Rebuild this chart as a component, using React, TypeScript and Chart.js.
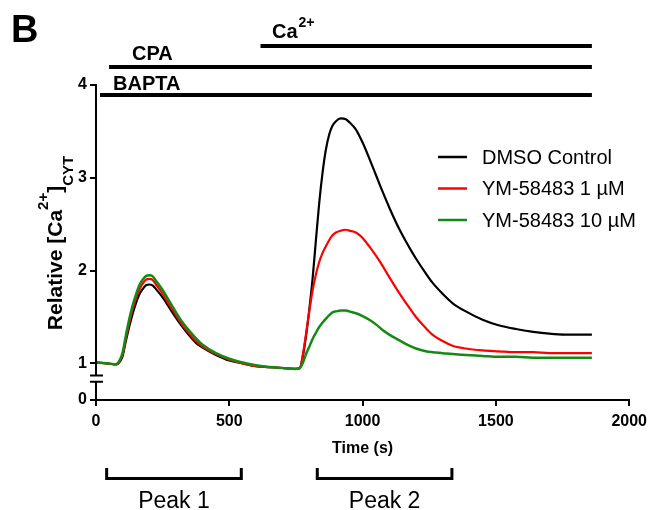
import { useEffect, useRef } from 'react';
import { Chart, registerables } from 'chart.js';
Chart.register(...registerables);

const FONT = '"Liberation Sans", Arial, Helvetica, sans-serif';

// ---- data ----
const times = [0, 40, 75, 90, 100, 112, 125, 137, 150, 162, 175, 187, 200, 212, 225, 250, 275, 300, 325, 350, 375, 400, 450, 500, 550, 600, 650, 700, 750, 765, 775, 788, 800, 812, 825, 837, 850, 862, 875, 887, 900, 918, 937, 950, 975, 1000, 1025, 1050, 1075, 1100, 1137, 1175, 1200, 1237, 1262, 1300, 1337, 1387, 1450, 1510, 1575, 1640, 1700, 1760, 1810, 1860];
const dmsoControl = [1.01, 1.0, 0.99, 1.02, 1.08, 1.24, 1.4, 1.53, 1.65, 1.74, 1.8, 1.84, 1.85, 1.84, 1.8, 1.71, 1.6, 1.49, 1.39, 1.3, 1.22, 1.17, 1.09, 1.03, 1.0, 0.97, 0.96, 0.95, 0.94, 0.95, 1.06, 1.3, 1.58, 1.9, 2.33, 2.72, 3.06, 3.3, 3.47, 3.56, 3.61, 3.64, 3.63, 3.6, 3.52, 3.38, 3.21, 3.03, 2.85, 2.68, 2.45, 2.25, 2.13, 1.97, 1.87, 1.75, 1.65, 1.56, 1.47, 1.41, 1.37, 1.34, 1.32, 1.31, 1.31, 1.31];
const ym1uM = [1.01, 1.0, 0.99, 1.03, 1.1, 1.27, 1.44, 1.58, 1.7, 1.79, 1.86, 1.9, 1.91, 1.9, 1.85, 1.75, 1.63, 1.52, 1.41, 1.32, 1.24, 1.18, 1.1, 1.04, 1.0, 0.97, 0.96, 0.95, 0.94, 0.95, 1.08, 1.32, 1.56, 1.78, 1.96, 2.09, 2.19, 2.26, 2.33, 2.38, 2.41, 2.43, 2.44, 2.43, 2.41, 2.35, 2.26, 2.16, 2.05, 1.93, 1.76, 1.6, 1.5, 1.38, 1.31, 1.24, 1.19, 1.16, 1.14, 1.13, 1.12, 1.12, 1.11, 1.11, 1.11, 1.11];
const ym10uM = [1.01, 1.0, 0.99, 1.04, 1.12, 1.3, 1.48, 1.62, 1.74, 1.84, 1.9, 1.94, 1.95, 1.94, 1.89, 1.79, 1.67, 1.55, 1.44, 1.35, 1.27, 1.2, 1.11, 1.05, 1.01, 0.98, 0.96, 0.95, 0.94, 0.95, 1.0, 1.1, 1.18, 1.26, 1.33, 1.39, 1.44, 1.48, 1.52, 1.55, 1.56, 1.57, 1.57, 1.56, 1.54, 1.51, 1.47, 1.42, 1.36, 1.31, 1.25, 1.19, 1.16, 1.13, 1.12, 1.11, 1.1, 1.09, 1.08, 1.07, 1.07, 1.06, 1.06, 1.06, 1.06, 1.06];

const seriesNames = ['DMSO Control', 'YM-58483 1 µM', 'YM-58483 10 µM'];
const seriesColors = ['#000000', '#ff0000', '#138a13'];
const seriesValues = [dmsoControl, ym1uM, ym10uM];

const xTicks = [0, 500, 1000, 1500, 2000];
const yTicks = [0, 1, 2, 3, 4];
const Y_ZERO_POS = 0.605; // where "0" sits on the broken axis

// treatment bars above the plot
const treatmentLabels = ['BAPTA', 'CPA', 'Ca'];
const treatmentStart = [15, 49, 617];
const treatmentEnd = [1860, 1860, 1860];

// peak brackets below the axis
const peakLabels = ['Peak 1', 'Peak 2'];
const peakStart = [40, 830];
const peakEnd = [545, 1335];

const mapY = (v: number) => (v === 0 ? Y_ZERO_POS : v);

const annotations = {
  id: 'annotations',
  afterDraw(chart: any) {
    const ctx = chart.ctx as CanvasRenderingContext2D;
    const xs = chart.scales.x;
    const ys = chart.scales.y;
    const left = chart.chartArea.left;
    ctx.save();
    ctx.fillStyle = '#000';
    ctx.strokeStyle = '#000';

    // broken y axis
    const y4 = ys.getPixelForValue(4);
    const y1 = ys.getPixelForValue(1);
    const y0 = ys.getPixelForValue(Y_ZERO_POS);
    const bTop = y1 + (y0 - y1) * 0.33;
    const bBot = y1 + (y0 - y1) * 0.5;
    ctx.lineWidth = 2;
    ctx.beginPath();
    ctx.moveTo(left, y4 - 1);
    ctx.lineTo(left, bTop);
    ctx.moveTo(left, bBot);
    ctx.lineTo(left, y0 + 1);
    ctx.moveTo(left - 6, bTop);
    ctx.lineTo(left + 7, bTop);
    ctx.moveTo(left - 6, bBot);
    ctx.lineTo(left + 7, bBot);
    ctx.stroke();

    // panel letter
    ctx.font = `bold 38px ${FONT}`;
    ctx.textAlign = 'left';
    ctx.textBaseline = 'alphabetic';
    ctx.fillText('B', 11, 42);

    // treatment bars
    const barY = [95, 67, 46];
    const labelX = [113, 132, 272];
    const labelY = [90, 60, 38];
    ctx.lineWidth = 4;
    treatmentLabels.forEach((lab, i) => {
      ctx.beginPath();
      ctx.moveTo(xs.getPixelForValue(treatmentStart[i]), barY[i]);
      ctx.lineTo(xs.getPixelForValue(treatmentEnd[i]), barY[i]);
      ctx.stroke();
      ctx.font = `bold 20px ${FONT}`;
      ctx.fillText(lab, labelX[i], labelY[i]);
      if (lab === 'Ca') {
        const w = ctx.measureText(lab).width;
        ctx.font = `bold 14px ${FONT}`;
        ctx.fillText('2+', labelX[i] + w + 1, labelY[i] - 11);
      }
    });

    // x axis title
    ctx.font = `bold 16px ${FONT}`;
    ctx.textAlign = 'center';
    ctx.fillText('Time (s)', (chart.chartArea.left + chart.chartArea.right) / 2, 453);

    // y axis title (rotated, rich text)
    ctx.save();
    ctx.translate(62, 243);
    ctx.rotate(-Math.PI / 2);
    ctx.textAlign = 'left';
    const parts: [string, number, number][] = [
      ['Relative [Ca', 21, 0],
      ['2+', 15, -14],
      [']', 21, 0],
      ['CYT', 15, 11],
    ];
    let total = 0;
    parts.forEach(([t, s]) => {
      ctx.font = `bold ${s}px ${FONT}`;
      total += ctx.measureText(t).width;
    });
    let cx = -total / 2;
    parts.forEach(([t, s, dy]) => {
      ctx.font = `bold ${s}px ${FONT}`;
      ctx.fillText(t, cx, dy);
      cx += ctx.measureText(t).width;
    });
    ctx.restore();

    // peak brackets
    ctx.lineWidth = 3;
    ctx.font = `23px ${FONT}`;
    ctx.textAlign = 'center';
    peakLabels.forEach((lab, i) => {
      const a = xs.getPixelForValue(peakStart[i]);
      const b = xs.getPixelForValue(peakEnd[i]);
      ctx.beginPath();
      ctx.moveTo(a, 468);
      ctx.lineTo(a, 478.5);
      ctx.lineTo(b, 478.5);
      ctx.lineTo(b, 468);
      ctx.stroke();
      ctx.fillText(lab, (a + b) / 2, 508);
    });

    // legend
    const legY = [157, 188.5, 220];
    ctx.textAlign = 'left';
    ctx.textBaseline = 'middle';
    ctx.font = `20px ${FONT}`;
    ctx.lineWidth = 2.5;
    seriesNames.forEach((name, i) => {
      ctx.strokeStyle = seriesColors[i];
      ctx.beginPath();
      ctx.moveTo(438, legY[i]);
      ctx.lineTo(467, legY[i]);
      ctx.stroke();
      ctx.fillStyle = '#000';
      ctx.fillText(name, 482, legY[i] + 1);
    });

    ctx.restore();
  },
};

export default function App() {
  const ref = useRef<HTMLCanvasElement>(null);
  useEffect(() => {
    const chart = new Chart(ref.current!, {
      type: 'line',
      data: {
        datasets: seriesNames.map((name, i) => ({
          label: name,
          data: times.map((t, j) => ({ x: t, y: seriesValues[i][j] })),
          borderColor: seriesColors[i],
          backgroundColor: seriesColors[i],
          borderWidth: i === 2 ? 2.5 : 2.2,
          pointRadius: 0,
          cubicInterpolationMode: 'monotone' as const,
          fill: false,
          order: 3 - i,
        })),
      },
      options: {
        animation: false,
        responsive: false,
        maintainAspectRatio: false,
        layout: { padding: { top: 85, right: 22, left: 0, bottom: 0 } },
        plugins: { legend: { display: false }, tooltip: { enabled: false } },
        scales: {
          x: {
            type: 'linear',
            min: 0,
            max: 2000,
            afterFit: (s: any) => {
              s.height = 110;
            },
            afterBuildTicks: (s: any) => {
              s.ticks = xTicks.map((v) => ({ value: v }));
            },
            ticks: {
              font: { family: FONT, size: 16, weight: 'bold' },
              color: '#000',
              padding: 6,
              maxRotation: 0,
              autoSkip: false,
              callback: (v: any) => String(v),
            },
            grid: { drawOnChartArea: false, drawTicks: true, tickLength: 6, color: '#000', lineWidth: 2 },
            border: { display: true, color: '#000', width: 2 },
          },
          y: {
            type: 'linear',
            min: Y_ZERO_POS,
            max: 4,
            afterFit: (s: any) => {
              s.width = 96;
            },
            afterBuildTicks: (s: any) => {
              s.ticks = yTicks.map((v) => ({ value: mapY(v) }));
            },
            ticks: {
              font: { family: FONT, size: 16, weight: 'bold' },
              color: '#000',
              padding: 3,
              autoSkip: false,
              callback: (v: any) => {
                const idx = yTicks.findIndex((t) => Math.abs(mapY(t) - v) < 1e-6);
                return idx >= 0 ? String(yTicks[idx]) : '';
              },
            },
            grid: { drawOnChartArea: false, drawTicks: true, tickLength: 6, color: '#000', lineWidth: 2 },
            border: { display: false },
          },
        },
      },
      plugins: [annotations],
    });
    return () => chart.destroy();
  }, []);
  return (
    <div style={{ position: 'fixed', left: 0, top: 0, width: 653, height: 510, background: '#fff' }}>
      <canvas ref={ref} width={653} height={510} style={{ display: 'block', width: 653, height: 510 }} />
    </div>
  );
}
